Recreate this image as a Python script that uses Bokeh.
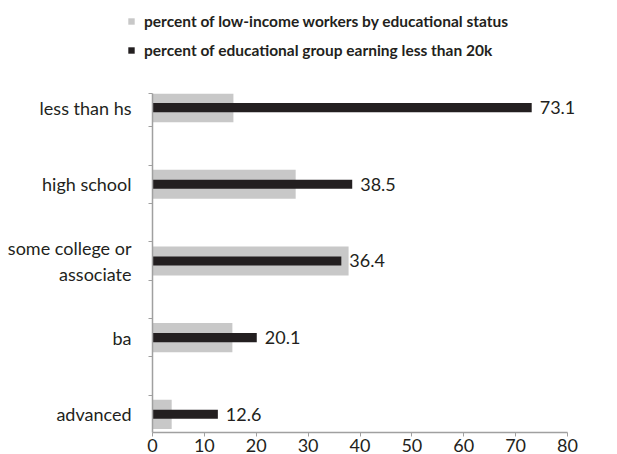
from bokeh.plotting import figure
from bokeh.layouts import column, row
from bokeh.models import (ColumnDataSource, Range1d, FixedTicker, Legend, LegendItem)
from bokeh.core.properties import value
from bokeh.embed import file_html
from bokeh.resources import INLINE

# ---- data ----
categories = ["less than hs", "high school", "some college or\nassociate", "ba", "advanced"]
low_income_share = [15.6, 27.6, 37.8, 15.4, 3.7]      # percent of low-income workers by educational status
under_20k_share = [73.1, 38.5, 36.4, 20.1, 12.6]      # percent of educational group earning less than 20k
x_ticks = [0, 10, 20, 30, 40, 50, 60, 70, 80]
legend_labels = ["percent of low-income workers by educational status",
                 "percent of educational group earning less than 20k"]

FONT = "Lato"
TXT = "#231f20"
AXIS = "#a0a0a0"
GREY = "#c8c8c8"
DARK = "#231f20"

n = len(categories)
ypos = [n - 1 - i for i in range(n)]
x_max = x_ticks[-1]

src = ColumnDataSource(dict(
    y=ypos,
    grey=low_income_share,
    dark=under_20k_share,
    lab=[f"{v:.1f}" for v in under_20k_share],
))

# ---- main chart ----
# frame runs to the right edge so value labels are not clipped; axis is bounded to 0..80
p = figure(width=617, height=361, output_backend="svg", toolbar_location=None,
           x_range=Range1d(0, x_max * 465 / 415), y_range=Range1d(-0.237, n - 1 + 0.184),
           min_border_left=152, min_border_right=0, min_border_top=0, min_border_bottom=0)
p.outline_line_color = None
p.grid.visible = False
p.background_fill_color = "white"

r_grey = p.hbar(y="y", right="grey", left=0, height=0.38, source=src,
                fill_color=GREY, line_color=None)
r_dark = p.hbar(y="y", right="dark", left=0, height=0.118, source=src,
                fill_color=DARK, line_color=None)

p.text(x="dark", y="y", text="lab", source=src, x_offset=8,
       text_baseline="middle", text_align="left",
       text_font=value(FONT), text_font_size="18px", text_color=TXT)

yax = p.yaxis[0]
minor = [-0.25 + 0.5 * k for k in range(2 * n - 1)] + [n - 1 + 0.184]
yax.ticker = FixedTicker(ticks=ypos, minor_ticks=minor)
yax.major_label_overrides = {y: c for y, c in zip(ypos, categories)}
yax.major_tick_out = 0
yax.major_tick_in = 0
yax.minor_tick_out = 4
yax.minor_tick_in = 0
yax.minor_tick_line_color = AXIS
yax.axis_line_color = AXIS
yax.axis_line_width = 1.5
yax.major_label_standoff = 17
yax.major_label_text_font = FONT
yax.major_label_text_font_size = "18px"
yax.major_label_text_color = TXT
yax.major_label_text_align = "right"

xax = p.xaxis[0]
xax.ticker = FixedTicker(ticks=x_ticks)
xax.bounds = (x_ticks[0], x_max)
xax.major_tick_out = 4
xax.major_tick_in = 0
xax.minor_tick_line_color = None
xax.major_tick_line_color = AXIS
xax.axis_line_color = AXIS
xax.axis_line_width = 1.5
xax.major_label_standoff = 2
xax.major_label_text_font = FONT
xax.major_label_text_font_size = "18px"
xax.major_label_text_color = TXT

# ---- legend strip above the chart (its proxy bars lie outside its view) ----
lf = figure(width=617, height=93, output_backend="svg", toolbar_location=None,
            x_range=Range1d(1000, 1617), y_range=Range1d(1000, 1093),
            min_border=0, min_border_left=0, min_border_right=0,
            min_border_top=0, min_border_bottom=0)
lf.axis.visible = False
lf.grid.visible = False
lf.outline_line_color = None
lg_grey = lf.hbar(y="y", right="grey", left=0, height=0.38, source=src,
                  fill_color=GREY, line_color=None)
lg_dark = lf.hbar(y="y", right="dark", left=0, height=0.118, source=src,
                  fill_color=DARK, line_color=None)

legend = Legend(items=[LegendItem(label=legend_labels[0], renderers=[lg_grey]),
                       LegendItem(label=legend_labels[1], renderers=[lg_dark])],
                location=(127, 33), orientation="vertical",
                glyph_width=8, glyph_height=8, label_height=20, spacing=9,
                label_standoff=9, padding=0, margin=0,
                border_line_color=None, background_fill_alpha=0,
                label_text_font=FONT, label_text_font_size="15.5px",
                label_text_font_style="bold", label_text_color=TXT)
lf.add_layout(legend, "center")

layout = column(row(lf), p, spacing=0)
open("out.html", "w").write(file_html(layout, INLINE))
